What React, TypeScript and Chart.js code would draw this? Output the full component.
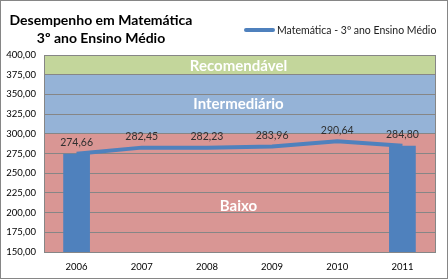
import React, { useEffect, useRef } from "react";
import { Chart, registerables } from "chart.js";
Chart.register(...registerables);

const years = ["2006", "2007", "2008", "2009", "2010", "2011"];
const scores = [274.66, 282.45, 282.23, 283.96, 290.64, 284.8];
const barScores = [274.66, null, null, null, null, 284.8];
const bandNames = ["Baixo", "Intermediário", "Recomendável"];
const bandFrom = [150, 300, 375];
const bandTo = [300, 375, 400];
const bandLabelAt = [208, 337.5, 386];
const bandColors = ["#D99694", "#95B3D7", "#C3D69B"];
const yTickValues = [150, 175, 200, 225, 250, 275, 300, 325, 350, 375, 400];

const seriesName = "Matemática - 3º ano Ensino Médio";
const titleLines = ["Desempenho em Matemática", "3º ano Ensino Médio"];
const BLUE = "#4F81BD";
const FONT = "Lato, 'Open Sans', sans-serif";

const fmt = (v: number) => v.toFixed(2).replace(".", ",");

const bandsPlugin = {
  id: "bands",
  beforeDraw(chart: any) {
    const { ctx, chartArea, scales } = chart;
    const y = scales.y;
    ctx.save();
    for (let i = 0; i < bandNames.length; i++) {
      const top = y.getPixelForValue(bandTo[i]);
      const bot = y.getPixelForValue(bandFrom[i]);
      ctx.fillStyle = bandColors[i];
      ctx.fillRect(chartArea.left, top, chartArea.right - chartArea.left, bot - top);
    }
    ctx.restore();
  },
  beforeDatasetsDraw(chart: any) {
    const { ctx, chartArea, scales } = chart;
    const y = scales.y;
    ctx.save();
    ctx.fillStyle = "#FFFFFF";
    ctx.font = `bold 15px ${FONT}`;
    ctx.textAlign = "center";
    ctx.textBaseline = "middle";
    const cx = (chartArea.left + chartArea.right) / 2;
    for (let i = 0; i < bandNames.length; i++) {
      ctx.fillText(bandNames[i], cx - 1, y.getPixelForValue(bandLabelAt[i]));
    }
    ctx.strokeStyle = "#868686";
    ctx.lineWidth = 1;
    ctx.strokeRect(
      Math.round(chartArea.left) + 0.5,
      Math.round(chartArea.top) + 0.5,
      Math.round(chartArea.right - chartArea.left),
      Math.round(chartArea.bottom - chartArea.top)
    );
    ctx.restore();
  },
  afterDatasetsDraw(chart: any) {
    const { ctx } = chart;
    const meta = chart.getDatasetMeta(1);
    ctx.save();
    ctx.fillStyle = "#303030";
    ctx.font = `10.5px ${FONT}`;
    ctx.textAlign = "center";
    ctx.textBaseline = "middle";
    meta.data.forEach((pt: any, i: number) => {
      ctx.fillText(fmt(scores[i]), pt.x, pt.y - 11);
    });
    ctx.restore();
  },
};

export default function App() {
  const ref = useRef<HTMLCanvasElement | null>(null);
  useEffect(() => {
    document.body.style.margin = "0";
    const chart = new Chart(ref.current as HTMLCanvasElement, {
      type: "bar",
      data: {
        labels: years,
        datasets: [
          {
            type: "bar",
            data: barScores as any,
            backgroundColor: BLUE,
            barPercentage: 0.41,
            categoryPercentage: 1,
            order: 2,
          },
          {
            type: "line",
            label: seriesName,
            data: scores,
            borderColor: BLUE,
            borderWidth: 4,
            pointRadius: 0,
            tension: 0,
            order: 1,
          } as any,
        ],
      },
      options: {
        responsive: false,
        animation: false,
        layout: { padding: { left: 0, top: 55, right: 13, bottom: 0 } },
        plugins: {
          legend: { display: false },
          title: { display: false },
          tooltip: { enabled: false },
        },
        scales: {
          x: {
            offset: true,
            grid: { display: false, drawTicks: false },
            border: { display: true, color: "#868686" },
            ticks: { color: "#000", font: { family: FONT, size: 9.5 }, padding: 9 },
            afterFit: (s: any) => { s.height = 27; },
          },
          y: {
            min: 150,
            max: 400,
            afterBuildTicks: (s: any) => { s.ticks = yTickValues.map((v) => ({ value: v })); },
            grid: { color: "#868686", drawTicks: false, lineWidth: 1 },
            border: { display: true, color: "#868686" },
            ticks: {
              color: "#000",
              font: { family: FONT, size: 9.5 },
              padding: 8,
              callback: (v: any) => fmt(Number(v)),
            },
            afterFit: (s: any) => { s.width = 44; },
          },
        },
      },
      plugins: [bandsPlugin],
    });
    return () => chart.destroy();
  }, []);

  return (
    <div style={{ position: "relative", width: 448, height: 279, background: "#fff", overflow: "hidden" }}>
      <canvas ref={ref} width={448} height={279} style={{ display: "block" }} />
      <div
        style={{
          position: "absolute", left: 8, top: 11, width: 186, textAlign: "center",
          fontFamily: FONT, fontWeight: "bold", fontSize: 14, lineHeight: "18px", color: "#000",
        }}
      >
        <div>{titleLines[0]}</div>
        <div>{titleLines[1]}</div>
      </div>
      <div
        style={{
          position: "absolute", left: 244, top: 22, height: 15, display: "flex", alignItems: "center",
          fontFamily: FONT, fontSize: 10.5, color: "#222", whiteSpace: "nowrap",
        }}
      >
        <span style={{ display: "inline-block", width: 31, height: 4, borderRadius: 2, background: BLUE, marginRight: 2 }} />
        <span>{seriesName}</span>
      </div>
      <div
        style={{
          position: "absolute", left: 0, top: 0, width: 448, height: 279, boxSizing: "border-box",
          border: "1px solid #868686", pointerEvents: "none",
        }}
      />
    </div>
  );
}
